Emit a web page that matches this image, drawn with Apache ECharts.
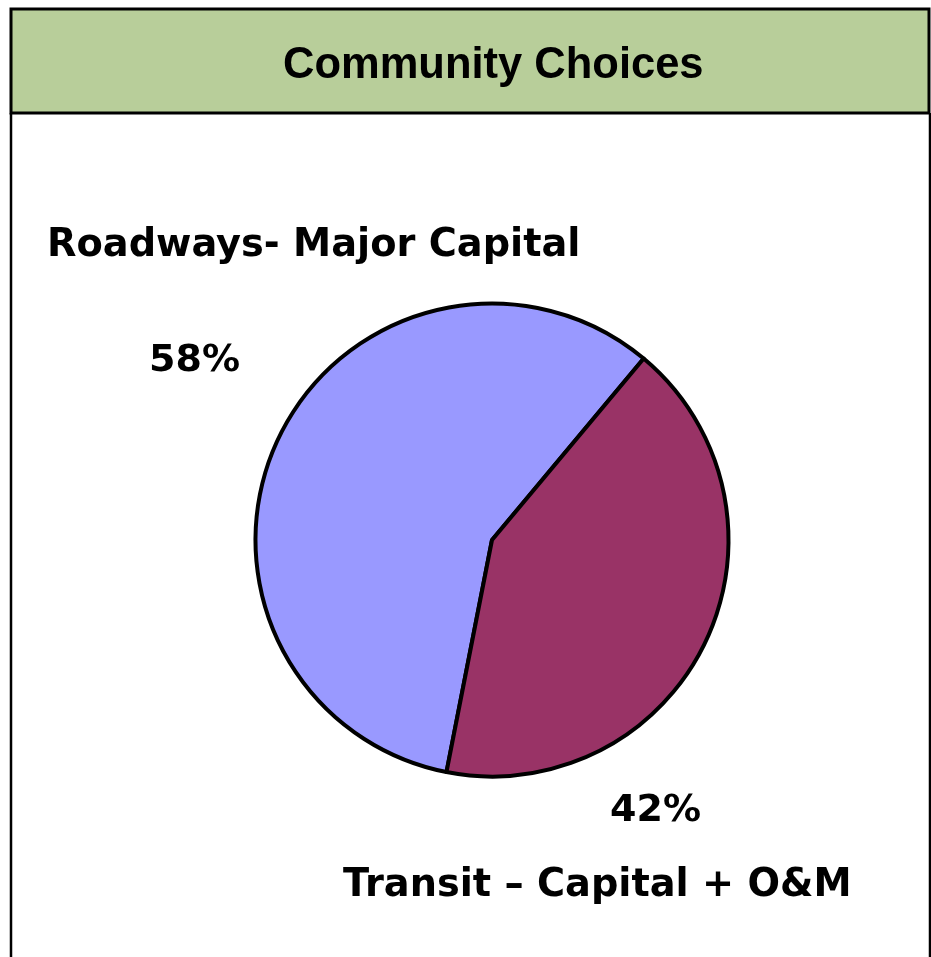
<!DOCTYPE html>
<html>
<head>
<meta charset="utf-8">
<script src="https://cdn.jsdelivr.net/npm/echarts@6/dist/echarts.min.js"></script>
<style>
  html, body { margin: 0; padding: 0; background: #fff; }
  #chart { width: 931px; height: 957px; }
</style>
</head>
<body>
<div id="chart"></div>
<script>
// data
const chartTitle = 'Community Choices'
const categories = ['Roadways- Major Capital', 'Transit \u2013 Capital + O&M']
const values = [58, 42]
const sliceColors = ['#9999ff', '#993366']

// where Excel put the labels (left x, middle y)
const namePos = [[47, 246], [343, 886]]
const pctPos = [[149, 361], [610, 811]]

const labelFont = { fontFamily: 'DejaVu Sans', fontWeight: 'bold', fontSize: 38, color: '#000' }

const chart = echarts.init(document.getElementById('chart'))

const option = {
  animation: false,
  backgroundColor: '#fff',
  title: {
    text: chartTitle,
    left: 278,
    top: 39,
    textStyle: { fontFamily: 'Liberation Sans', fontWeight: 'bold', fontSize: 43.5, color: '#000' }
  },
  graphic: [
    // green title box
    {
      type: 'rect', z: -10,
      shape: { x: 11, y: 9, width: 918, height: 104 },
      style: { fill: '#b8ce9a', stroke: '#000', lineWidth: 3 }
    },
    // frame sides under the title box
    { type: 'line', shape: { x1: 11, y1: 113, x2: 11, y2: 957 }, style: { stroke: '#000', lineWidth: 2.5 } },
    { type: 'line', shape: { x1: 930, y1: 113, x2: 930, y2: 957 }, style: { stroke: '#000', lineWidth: 2.5 } },
    // category names
    ...categories.map((name, i) => ({
      type: 'text',
      style: {
        text: name,
        x: namePos[i][0],
        y: namePos[i][1],
        align: 'left',
        verticalAlign: 'middle',
        font: 'bold 38.3px "DejaVu Sans"',
        fill: '#000'
      }
    }))
  ],
  series: [
    {
      type: 'pie',
      center: [492, 540],
      radius: 236.5,
      startAngle: 258.9,
      clockwise: true,
      data: categories.map((name, i) => ({
        name,
        value: values[i],
        itemStyle: { color: sliceColors[i] }
      })),
      itemStyle: { borderColor: '#000', borderWidth: 4 },
      label: {
        show: true,
        formatter: '{d}%',
        ...labelFont
      },
      labelLine: { show: false },
      labelLayout: params => ({
        x: pctPos[params.dataIndex][0],
        y: pctPos[params.dataIndex][1],
        align: 'left',
        verticalAlign: 'middle'
      }),
      emphasis: { disabled: true }
    }
  ]
}

chart.setOption(option)
</script>
</body>
</html>
